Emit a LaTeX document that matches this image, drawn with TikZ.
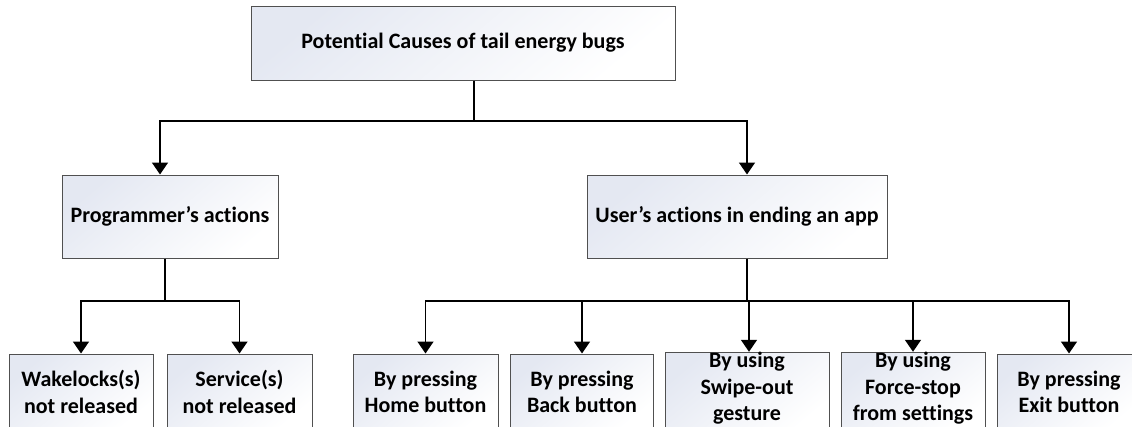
\documentclass[tikz,border=0pt]{standalone}
\usepackage{fontspec}
\setmainfont{Carlito}[Ligatures=NoCommon]
\usepackage{tikz}
\usetikzlibrary{positioning}
\usepackage{xcolor}
\usetikzlibrary{arrows.meta,positioning,shapes.geometric}

\definecolor{boxtint}{RGB}{228,232,242}
\definecolor{boxline}{RGB}{80,80,80}

\begin{document}
\begin{tikzpicture}[
x=1pt, y=-1pt,
box/.style={
rectangle,
draw=boxline,
line width=1pt,
top color=boxtint,
bottom color=white,
shading angle=40,
minimum height=76pt,
align=center,
inner sep=0pt,
font=\fontsize{22}{26.5}\selectfont\bfseries
},
wire/.style={line width=1.6pt},
arrow/.style={-{Triangle[length=12pt,width=16pt]},line width=1.6pt}
]
\useasboundingbox (0,0) rectangle (1132,426);
\clip (0,0) rectangle (1132,426);

% top level
\node[box, minimum width=424pt, minimum height=74pt] (causes) at (463,43) {Potential Causes of tail energy bugs};

% second level
\node[box, minimum width=216pt, minimum height=83pt] (prog) at (170,216.5) {Programmer’s actions};
\node[box, minimum width=300pt, minimum height=83pt] (user) at (737,216.5) {User’s actions in ending an app};

% leaves
\node[box, minimum width=144pt] (wake) at (81,392) {Wakelocks(s)\\not released};
\node[box, minimum width=145pt] (service) at (239.5,392) {Service(s)\\not released};
\node[box, minimum width=145pt] (home) at (425.5,392) {By pressing\\Home button};
\node[box, minimum width=143pt] (back) at (582,392) {By pressing\\Back button};
\node[box, minimum width=164pt, text depth=11pt] (swipe) at (747,392) {By using\\Swipe-out\\gesture};
\node[box, minimum width=144pt, text depth=11pt] (force) at (913,392) {By using\\Force-stop\\from settings};
\node[box, minimum width=144pt] (exit) at (1069,392) {By pressing\\Exit button};

% junctions
\coordinate (top fork) at ([xshift=11pt]causes.south |- 0,121);
\coordinate (prog fork) at ([xshift=-5pt]prog.south |- 0,301);
\coordinate (user fork) at ([xshift=10pt]user.south |- 0,301);

\draw[wire] ([xshift=11pt]causes.south) -- (top fork);
\draw[arrow] (top fork) -| ([xshift=-10pt]prog.north);
\draw[arrow] (top fork) -| ([xshift=10pt]user.north);

\draw[wire] ([xshift=-5pt]prog.south) -- (prog fork);
\draw[arrow] (prog fork) -| (wake.north);
\draw[arrow] (prog fork) -| (service.north);

\draw[wire] ([xshift=10pt]user.south) -- (user fork);
\draw[arrow] (user fork) -| (home.north);
\draw[arrow] (user fork) -| (back.north);
\draw[arrow] (user fork) -| ([xshift=2pt]swipe.north);
\draw[arrow] (user fork) -| (force.north);
\draw[arrow] (user fork) -| (exit.north);

\end{tikzpicture}
\end{document}
